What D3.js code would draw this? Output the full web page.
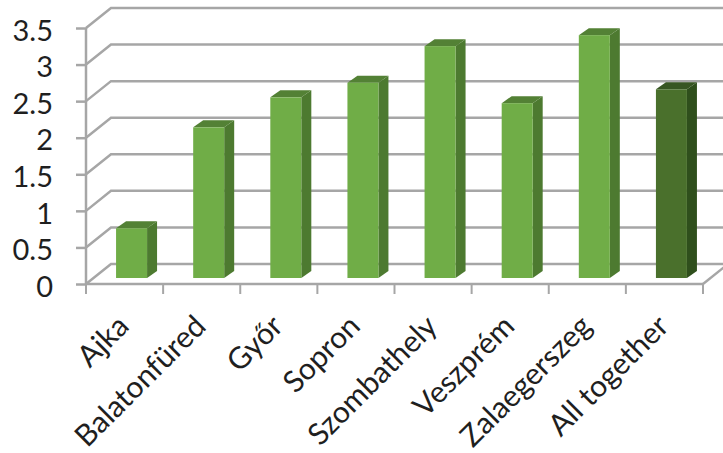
<!DOCTYPE html>
<html>
<head>
<meta charset="utf-8">
<script src="https://cdn.jsdelivr.net/npm/d3@7/dist/d3.min.js"></script>
<style>
  html, body { margin: 0; padding: 0; background: #fff; }
  svg { display: block; }
  text { font-family: Lato, "Open Sans", sans-serif; fill: #1f1f1f; }
</style>
</head>
<body>
<svg id="chart" width="723" height="453"></svg>
<script>
const categories = ["Ajka", "Balatonfüred", "Győr", "Sopron", "Szombathely", "Veszprém", "Zalaegerszeg", "All together"];
const values = [0.68, 2.06, 2.47, 2.67, 3.17, 2.39, 3.32, 2.58];
const yTicks = [0, 0.5, 1, 1.5, 2, 2.5, 3, 3.5];

// Oblique projection of the chart box: wall depth and bar depth
const wallDepth = { dx: 25, dy: -20 };
const barDepth = { dx: 10, dy: -7 };
const barLift = 6;
const gridColor = "#a6a6a6";

const svg = d3.select("#chart");
const x = d3.scaleBand().domain(categories).range([86, 703]).paddingInner(0).paddingOuter(0);
const y = d3.scaleLinear().domain([0, 3.5]).range([284, 28]);
const barWidth = 31;
const line = d3.line();

// Back wall grid, the side wall diagonals and the floor edge
const grid = svg.append("g").attr("fill", "none").attr("stroke", gridColor).attr("stroke-width", 2.5);
grid.selectAll("path.grid").data(yTicks).join("path").attr("class", "grid")
  .attr("d", v => line([
    [x.range()[0], y(v)],
    [x.range()[0] + wallDepth.dx, y(v) + wallDepth.dy],
    [735, y(v) + wallDepth.dy]
  ]));
grid.append("path").attr("d", line([
  [x.range()[1], y(0)],
  [735, y(0) - (735 - x.range()[1]) * 20 / 25]
]));

// Value axis
const yAxis = svg.append("g")
  .attr("transform", `translate(${x.range()[0]},0)`)
  .call(d3.axisLeft(y).tickValues(yTicks).tickFormat(d3.format("~g")).tickSize(10).tickPadding(23));
yAxis.selectAll("path,line").attr("stroke", gridColor).attr("stroke-width", 2.5);
yAxis.select(".domain").attr("d", line([[0, y(3.5)], [0, y(0)]]));
yAxis.selectAll("text").attr("font-size", 29).attr("font-family", "Lato").attr("fill", "#1f1f1f")
  .attr("dy", "0.42em");

// Category axis, ticks at the band boundaries
const xEdges = categories.map(c => x(c)).concat(x.range()[1]);
const xAxis = svg.append("g").attr("transform", `translate(0,${y(0)})`);
xAxis.append("path").attr("d", line([[x.range()[0], 0], [x.range()[1], 0]]))
  .attr("stroke", gridColor).attr("stroke-width", 2.5);
xAxis.selectAll("line").data(xEdges).join("line")
  .attr("x1", d => d).attr("x2", d => d).attr("y1", 0).attr("y2", 10)
  .attr("stroke", gridColor).attr("stroke-width", 2);
xAxis.selectAll("text").data(categories).join("text")
  .attr("text-anchor", "end")
  .attr("font-size", 30)
  .attr("transform", c => `translate(${x(c) + x.bandwidth() / 2 + 6},${44}) rotate(-45)`)
  .text(c => c);

// Bars: front, side and top faces
const bars = svg.append("g").selectAll("g").data(categories).join("g");
const barLeft = c => x(c) + x.bandwidth() / 2 - barWidth / 2 + 7;
const barBottom = y(0) - barLift;
const barTop = i => y(values[i]) - barLift;
const shade = i => categories[i] === "All together"
  ? { front: "#4a702c", side: "#2f4f1c", top: "#375623" }
  : { front: "#70ad47", side: "#4d7a30", top: "#538135" };

bars.append("path").attr("fill", (c, i) => shade(i).side).attr("d", (c, i) => {
  const r = barLeft(c) + barWidth;
  return line([[r, barBottom], [r + barDepth.dx, barBottom + barDepth.dy],
    [r + barDepth.dx, barTop(i) + barDepth.dy], [r, barTop(i)]]) + "Z";
});
bars.append("path").attr("fill", (c, i) => shade(i).top).attr("d", (c, i) => {
  const l = barLeft(c), t = barTop(i);
  return line([[l, t], [l + barDepth.dx, t + barDepth.dy],
    [l + barWidth + barDepth.dx, t + barDepth.dy], [l + barWidth, t]]) + "Z";
});
bars.append("rect").attr("fill", (c, i) => shade(i).front)
  .attr("x", barLeft).attr("width", barWidth)
  .attr("y", (c, i) => barTop(i)).attr("height", (c, i) => barBottom - barTop(i));
</script>
</body>
</html>
